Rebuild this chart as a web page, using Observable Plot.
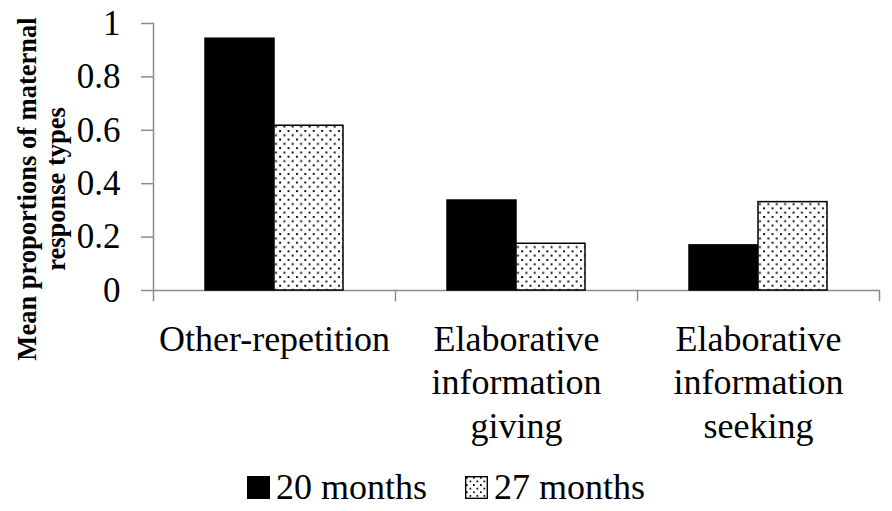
<!DOCTYPE html>
<html><head><meta charset="utf-8">
<script src="https://cdn.jsdelivr.net/npm/d3@7"></script>
<script src="https://cdn.jsdelivr.net/npm/@observablehq/plot@0.6"></script>
<style>
body{margin:0;background:#fff;font-family:'Liberation Serif',serif;}
#chart svg{display:block;}
#legend{display:flex;justify-content:center;align-items:center;font-family:'Liberation Serif',serif;font-size:36px;line-height:40px;margin-top:2px;color:#000;}
.item{display:flex;align-items:center;margin:0 19px;}
.sw{display:block;margin-right:6px;}
</style></head><body>
<svg width="0" height="0" style="position:absolute"><defs><pattern id="dots" width="8.4" height="8.6" patternUnits="userSpaceOnUse"><rect width="8.4" height="8.6" fill="white"/><rect x="1" y="1" width="1.9" height="1.9" fill="black"/><rect x="5.2" y="5.3" width="1.9" height="1.9" fill="black"/></pattern>
<pattern id="dotsSmall" width="7" height="7.2" patternUnits="userSpaceOnUse"><rect width="7" height="7.2" fill="white"/><rect x="1" y="1" width="1.7" height="1.7" fill="black"/><rect x="4.5" y="4.6" width="1.7" height="1.7" fill="black"/></pattern></defs></svg>
<div id="chart"></div>
<div id="legend"></div>
<script>
const categories = ["Other-repetition", "Elaborative information giving", "Elaborative information seeking"];
const categoryLabels = ["Other-repetition", "Elaborative\ninformation\ngiving", "Elaborative\ninformation\nseeking"];
const seriesNames = ["20 months", "27 months"];
const values20 = [0.943, 0.337, 0.169];
const values27 = [0.617, 0.175, 0.331];
const yTicks = [0, 0.2, 0.4, 0.6, 0.8, 1];
const yTickLabels = ["0", "0.2", "0.4", "0.6", "0.8", "1"];
const yTitle = "Mean proportions of maternal\nresponse types";

const data = categories.flatMap((c, i) => [
  {category: c, series: seriesNames[0], value: values20[i]},
  {category: c, series: seriesNames[1], value: values27[i]}
]);
const axisGray = "#8c8c8c";
const seriesFill = ["black", "url(#dots)"];
const legendFill = ["black", "url(#dotsSmall)"];
const serif = "'Liberation Serif', serif";

const chart = Plot.plot({
  width: 892, height: 465,
  marginTop: 23, marginRight: 12, marginBottom: 165, marginLeft: 152,
  style: {fontFamily: serif, background: "white", color: "black"},
  fx: {domain: categories, padding: 0},
  x: {domain: seriesNames, paddingInner: 0, paddingOuter: 0.733, axis: null},
  y: {domain: [0, 1], insetBottom: 10},
  marks: [
    Plot.frame({anchor: "left", facetAnchor: "left", stroke: axisGray, strokeWidth: 1.5}),
    Plot.frame({anchor: "right", insetTop: 267, stroke: axisGray, strokeWidth: 1.5}),
    Plot.ruleY([0], {stroke: axisGray, strokeWidth: 1.5}),
    ...seriesNames.map((s, k) => Plot.barY(data.filter(d => d.series === s), {
      fx: "category", x: "series", y: "value", fill: seriesFill[k], stroke: "black", strokeWidth: 1.5
    })),
    Plot.axisY({ticks: yTicks, tickFormat: (d, i) => yTickLabels[i], tickSize: 12, tickPadding: 21, fontSize: 35, fontFamily: serif, stroke: axisGray, strokeWidth: 1.5, label: null}),
    Plot.axisFx({anchor: "bottom", tickSize: 0, tickPadding: 20, fontSize: 36, fontFamily: serif, lineHeight: 1.2, tickFormat: d => categoryLabels[categories.indexOf(d)], label: null}),
    Plot.text([yTitle], {frameAnchor: "left", facetAnchor: "left", rotate: -90, dx: -139, dy: 27, lineAnchor: "top", textAnchor: "middle", fontSize: 26.5, fontFamily: serif, fontWeight: "bold", lineHeight: 1.12})
  ]
});
document.getElementById("chart").appendChild(chart);

const legend = document.getElementById("legend");
seriesNames.forEach((s, k) => {
  const item = document.createElement("div");
  item.className = "item";
  item.innerHTML = `<svg class="sw" width="23" height="23"><rect x="0.7" y="0.7" width="21.6" height="21.6" fill="${legendFill[k]}" stroke="black" stroke-width="1.4"/></svg><span>${s}</span>`;
  legend.appendChild(item);
});
</script>
</body></html>
